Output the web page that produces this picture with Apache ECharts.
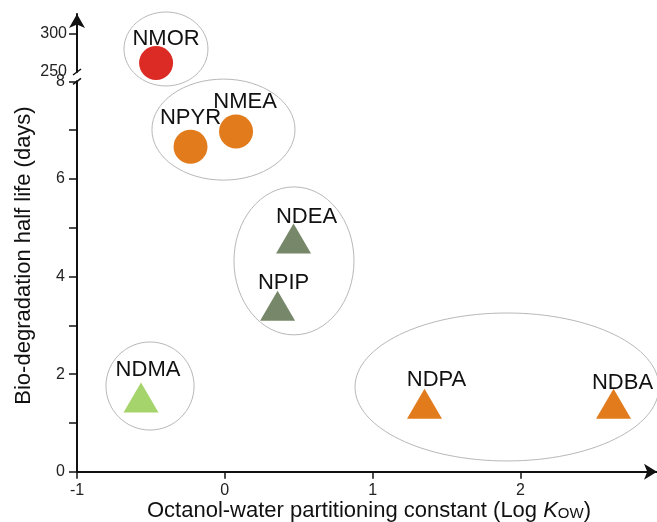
<!DOCTYPE html>
<html>
<head>
<meta charset="utf-8">
<script src="https://cdn.jsdelivr.net/npm/echarts@6/dist/echarts.min.js"></script>
<style>html,body{margin:0;padding:0;background:#fff;}#c{width:657px;height:522px;}</style>
</head>
<body>
<div id="c"></div>
<script>
// ---- data ----
const compounds = ['NMOR', 'NPYR', 'NMEA', 'NDEA', 'NPIP', 'NDMA', 'NDPA', 'NDBA'];
const logKow    = [-0.465, -0.232, 0.076, 0.465, 0.357, -0.567, 1.351, 2.630];
const halfLife  = [261.7, 6.66, 6.97, 4.78, 3.40, 1.52, 1.39, 1.39];
const markerShape = ['circle', 'circle', 'circle', 'triangle', 'triangle', 'triangle', 'triangle', 'triangle'];
const markerColor = ['#dc2a24', '#e27b1c', '#e27b1c', '#77876a', '#77876a', '#a6d46c', '#e27b1c', '#e27b1c'];
// group ellipses: [centre logKow, centre half-life, x radius, y radius]
const groupEllipsesLower = [
  [-0.009, 7.01, 0.484, 1.035],
  [0.468, 4.32, 0.406, 1.516],
  [-0.506, 1.756, 0.298, 0.902],
  [1.909, 1.736, 1.028, 1.516]
];
const groupEllipsesUpper = [
  [-0.398, 279.9, 0.284, 48]
];
const xTicks = [-1, 0, 1, 2];
const yTicksLower = [0, 2, 4, 6, 8];
const yTicksUpper = [250, 300];
const breakAt = 8; // lower segment ends here, upper starts at 250

// label nudges (px) — layout only
const labelNudge = [[10, -24], [0, -29], [9, -30], [13, -21], [6, -23], [7, -28], [12, -24], [9, -21]];

const FONT = "'Liberation Sans', Arial, sans-serif";
const chart = echarts.init(document.getElementById('c'), null, {renderer: 'canvas'});

function pointItems(upper) {
  const out = [];
  compounds.forEach((n, i) => {
    const isUpper = halfLife[i] > breakAt;
    if (isUpper !== upper) return;
    out.push({
      name: n,
      value: [logKow[i], halfLife[i]],
      symbol: markerShape[i],
      symbolSize: markerShape[i] === 'circle' ? 34 : [35, 30],
      itemStyle: {color: markerColor[i], opacity: 1},
      label: {offset: labelNudge[i]}
    });
  });
  return out;
}

function ellipseRender(params, api) {
  const c = api.coord([api.value(0), api.value(1)]);
  const s = api.size([api.value(2), api.value(3)]);
  return {
    type: 'ellipse',
    shape: {cx: c[0], cy: c[1], rx: s[0], ry: s[1]},
    style: {fill: null, stroke: '#b8b8b8', lineWidth: 1}
  };
}

const labelStyle = {
  show: true, position: 'inside', formatter: '{b}',
  color: '#111', fontSize: 22, fontFamily: FONT, align: 'center', verticalAlign: 'middle',
  textBorderWidth: 0
};

const axisLineStyle = {color: '#111', width: 2};

const option = {
  animation: false,
  backgroundColor: '#fff',
  grid: [
    {left: 77, right: 0, top: 81.3, bottom: 50.3, outerBoundsMode: 'none', containLabel: false},
    {left: 77, right: 0, top: 14, bottom: 450, outerBoundsMode: 'none', containLabel: false}
  ],
  xAxis: [
    {
      type: 'value', gridIndex: 0, min: -1, max: 2.924, interval: 1,
      splitLine: {show: false},
      axisLine: {show: true, onZero: false, lineStyle: axisLineStyle, symbol: ['none', 'arrow'], symbolSize: [12, 13]},
      axisTick: {show: true, inside: false, length: 7, lineStyle: {color: '#111', width: 1.5}, customValues: xTicks},
      axisLabel: {color: '#222', fontSize: 16, fontFamily: FONT, margin: 11, customValues: xTicks},
      name: 'Octanol-water partitioning constant (Log {k|K}{s|OW})',
      nameLocation: 'middle', nameGap: 28, nameMoveOverlap: false,
      nameTextStyle: {
        color: '#111', fontSize: 22, fontFamily: FONT, padding: [0, 0, 0, 4],
        rich: {
          k: {fontSize: 22, fontStyle: 'italic', fontFamily: FONT, color: '#111'},
          s: {fontSize: 15, fontFamily: FONT, color: '#111', padding: [7, 0, 0, 0]}
        }
      }
    },
    {
      type: 'value', gridIndex: 1, min: -1, max: 2.924, show: false, splitLine: {show: false}
    }
  ],
  yAxis: [
    {
      type: 'value', gridIndex: 0, min: 0, max: 8, interval: 1,
      splitLine: {show: false},
      axisLine: {show: true, onZero: false, lineStyle: axisLineStyle},
      axisTick: {show: true, inside: false, length: 8, lineStyle: {color: '#111', width: 1.5}},
      axisLabel: {color: '#222', fontSize: 16, fontFamily: FONT, margin: 12, customValues: yTicksLower},
      name: 'Bio-degradation half life (days)',
      nameLocation: 'middle', nameGap: 42, nameRotate: 90, nameMoveOverlap: false,
      nameTextStyle: {color: '#111', fontSize: 22, fontFamily: FONT, padding: [0, 0, 0, 42]}
    },
    {
      type: 'value', gridIndex: 1, min: 250, max: 325.3,
      splitLine: {show: false},
      axisLine: {show: true, onZero: false, lineStyle: axisLineStyle, symbol: ['none', 'arrow'], symbolSize: [12, 14]},
      axisTick: {show: true, inside: false, length: 8, lineStyle: {color: '#111', width: 1.5}, customValues: [300]},
      axisLabel: {color: '#222', fontSize: 16, fontFamily: FONT, margin: 10, customValues: yTicksUpper}
    }
  ],
  series: [
    {
      type: 'custom', xAxisIndex: 0, yAxisIndex: 0, clip: false, z: 1, silent: true,
      renderItem: ellipseRender, data: groupEllipsesLower
    },
    {
      type: 'custom', xAxisIndex: 1, yAxisIndex: 1, clip: false, z: 1, silent: true,
      renderItem: ellipseRender, data: groupEllipsesUpper
    },
    {
      type: 'scatter', xAxisIndex: 0, yAxisIndex: 0, z: 3,
      itemStyle: {opacity: 1},
      label: labelStyle, data: pointItems(false)
    },
    {
      type: 'scatter', xAxisIndex: 1, yAxisIndex: 1, z: 3,
      itemStyle: {opacity: 1},
      label: labelStyle, data: pointItems(true)
    }
  ]
};
chart.setOption(option);

// axis-break mark between the two y segments
const pLow = chart.convertToPixel({gridIndex: 0}, [-1, breakAt]);
const pHigh = chart.convertToPixel({gridIndex: 1}, [-1, yTicksUpper[0]]);
chart.setOption({
  graphic: [
    {type: 'line', shape: {x1: pHigh[0] - 4, y1: pHigh[1] + 3, x2: pHigh[0] + 4, y2: pHigh[1] - 3}, style: {stroke: '#111', lineWidth: 1.5}, z: 10},
    {type: 'line', shape: {x1: pLow[0] - 4, y1: pLow[1] + 3, x2: pLow[0] + 4, y2: pLow[1] - 3}, style: {stroke: '#111', lineWidth: 1.5}, z: 10}
  ]
});
</script>
</body>
</html>
